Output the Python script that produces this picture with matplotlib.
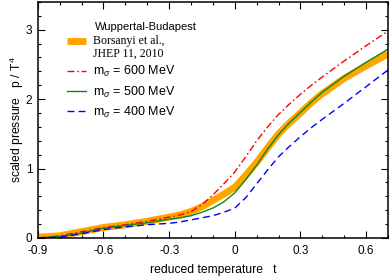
import matplotlib
matplotlib.use('Agg')
import matplotlib.pyplot as plt
from matplotlib.ticker import MultipleLocator

plt.rcParams['font.family'] = ['Liberation Sans', 'DejaVu Sans']
plt.rcParams['mathtext.fontset'] = 'custom'
plt.rcParams['mathtext.rm'] = 'Liberation Sans'
plt.rcParams['mathtext.it'] = 'Liberation Sans:italic'

# reduced temperature grid
t = [-0.9, -0.8, -0.7, -0.6, -0.5, -0.4, -0.3, -0.25, -0.2, -0.15, -0.1,
     -0.05, 0.0, 0.05, 0.1, 0.15, 0.2, 0.25, 0.3, 0.35, 0.4, 0.5, 0.6, 0.7]

# Wuppertal-Budapest lattice (band centre)
p_wb = [0.01, 0.03, 0.09, 0.15, 0.19, 0.24, 0.30, 0.33, 0.38, 0.45, 0.54,
        0.63, 0.73, 0.90, 1.09, 1.30, 1.50, 1.66, 1.80, 1.95, 2.08, 2.30,
        2.48, 2.65]
# model curves for different sigma masses
p_600 = [0.0, 0.03, 0.09, 0.15, 0.19, 0.24, 0.30, 0.33, 0.38, 0.48, 0.62,
         0.78, 0.95, 1.17, 1.40, 1.60, 1.78, 1.93, 2.07, 2.20, 2.32, 2.55,
         2.77, 2.98]
p_500 = [0.0, 0.02, 0.07, 0.14, 0.18, 0.22, 0.27, 0.29, 0.32, 0.37, 0.43,
         0.52, 0.65, 0.84, 1.05, 1.28, 1.49, 1.66, 1.81, 1.96, 2.10, 2.33,
         2.53, 2.72]
p_400 = [0.0, 0.01, 0.06, 0.12, 0.16, 0.19, 0.21, 0.23, 0.26, 0.29, 0.32,
         0.37, 0.43, 0.58, 0.78, 0.98, 1.17, 1.32, 1.46, 1.59, 1.71, 1.94,
         2.18, 2.42]

fig = plt.figure(figsize=(3.9, 2.76), dpi=100)
ax = fig.add_axes([0.097, 0.138, 0.898, 0.855])

ax.plot(t, p_wb, color='#FFA500', lw=5, solid_capstyle='butt',
        label='Borsanyi et al.,\nJHEP 11, 2010')
ax.plot(t, p_600, color='#FF0000', lw=1.0, dashes=(5, 2, 1.2, 2),
        label=r'm$_\sigma$ = 600 MeV')
ax.plot(t, p_500, color='#118811', lw=1.0, label=r'm$_\sigma$ = 500 MeV')
ax.plot(t, p_400, color='#0000FF', lw=1.0, dashes=(5, 3),
        label=r'm$_\sigma$ = 400 MeV')

ax.set_xlim(-0.9, 0.7)
ax.set_ylim(0, 3.4)
ax.xaxis.set_minor_locator(MultipleLocator(0.1))
ax.yaxis.set_major_locator(MultipleLocator(1))
ax.yaxis.set_minor_locator(MultipleLocator(0.2))
ax.set_xticks([-0.9, -0.6, -0.3, 0, 0.3, 0.6])
ax.set_xticklabels(['-0.9', '-0.6', '-0.3', '0', '0.3', '0.6'])
ax.tick_params(which='both', direction='in', top=True, right=True,
               labelsize=8.5, width=0.8)
ax.tick_params(which='major', length=5, pad=4)
ax.tick_params(axis='x', which='major', pad=5)
ax.tick_params(which='minor', length=2.5)
for s in ax.spines.values():
    s.set_linewidth(1.1)

ax.set_xlabel('reduced temperature   t', fontsize=8.7, labelpad=5)
ax.set_ylabel(r'scaled pressure   p / T$^4$', fontsize=8.7, labelpad=-0.5)

leg = ax.legend(loc='upper left', bbox_to_anchor=(0.066, 0.885),
                frameon=False, fontsize=9, handlelength=1.5,
                handletextpad=0.6, labelspacing=0.4, borderpad=0)
txts = leg.get_texts()
txts[0].set_family(['Liberation Serif', 'DejaVu Serif'])
txts[0].set_fontsize(8.5)
txts[0].set_linespacing(1.0)
# line up the orange handle with the first line of its label
hl = leg.legend_handles[0]
hl.set_ydata([y + 4.5 for y in hl.get_ydata()])
ax.text(0.163, 0.894, 'Wuppertal-Budapest', transform=ax.transAxes,
        fontsize=8, va='center', ha='left')

plt.savefig('out.png', dpi=100)
